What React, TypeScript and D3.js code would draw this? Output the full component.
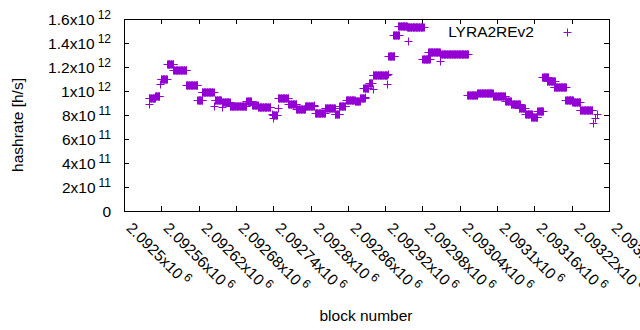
import React from "react";
import * as d3 from "d3";

// runs of consecutive blocks sharing one hashrate reading (value in units of 1e11 h/s)
const segStart = [
  2092540, 2092540, 2092550, 2092558, 2092559, 2092569, 2092579, 2092600, 2092618, 2092625,
  2092645, 2092646, 2092657, 2092658, 2092670, 2092697, 2092706, 2092715, 2092738, 2092740,
  2092739, 2092748, 2092748, 2092764, 2092777, 2092791, 2092806, 2092807, 2092823, 2092839,
  2092846, 2092857, 2092871, 2092879, 2092888, 2092885, 2092894, 2092900, 2092900, 2092924,
  2092923, 2092925, 2092933, 2092941, 2092957, 2092955, 2092980, 2092989, 2093008, 2093008,
  2093052, 2093068, 2093093, 2093113, 2093122, 2093135, 2093145, 2093154, 2093165, 2093173,
  2093180, 2093191, 2093210, 2093221, 2093233, 2093254, 2093257, 2093261,
];
const segEnd = [
  2092540, 2092550, 2092557, 2092558, 2092569, 2092579, 2092600, 2092618, 2092626, 2092644,
  2092645, 2092656, 2092657, 2092670, 2092697, 2092704, 2092715, 2092735, 2092738, 2092740,
  2092746, 2092748, 2092764, 2092777, 2092791, 2092806, 2092806, 2092823, 2092839, 2092846,
  2092856, 2092871, 2092879, 2092887, 2092888, 2092893, 2092899, 2092900, 2092923, 2092924,
  2092923, 2092935, 2092942, 2092955, 2092957, 2092982, 2092992, 2093008, 2093008, 2093053,
  2093068, 2093093, 2093113, 2093122, 2093137, 2093145, 2093156, 2093165, 2093174, 2093182,
  2093193, 2093211, 2093222, 2093233, 2093253, 2093254, 2093257, 2093261,
];
const segValue = [
  8.92, 9.42, 9.58, 10.58, 11.0, 12.25, 11.75, 10.5, 9.25, 9.92,
  8.75, 9.25, 8.67, 9.08, 8.75, 9.17, 8.83, 8.67, 8.08, 7.75,
  8.0, 8.58, 9.42, 8.92, 8.5, 8.75, 8.83, 8.17, 8.58, 8.08,
  8.75, 9.25, 9.17, 9.42, 9.5, 10.25, 10.67, 10.17, 11.33, 11.42,
  10.58, 12.92, 14.67, 15.42, 14.17, 15.33, 12.67, 13.25, 12.5, 13.08,
  9.67, 9.83, 9.58, 9.17, 8.92, 8.58, 8.08, 7.8, 8.33, 11.17,
  10.83, 10.33, 9.25, 9.08, 8.42, 7.33, 7.75, 8.08,
];

const xTicks = [
  2092500, 2092560, 2092620, 2092680, 2092740, 2092800, 2092860,
  2092920, 2092980, 2093040, 2093100, 2093160, 2093220, 2093280,
];
const xTickLabels = [
  "2.0925", "2.09256", "2.09262", "2.09268", "2.09274", "2.0928", "2.09286",
  "2.09292", "2.09298", "2.09304", "2.0931", "2.09316", "2.09322", "2.09328",
];
const yTicks = [0, 2e11, 4e11, 6e11, 8e11, 1e12, 1.2e12, 1.4e12, 1.6e12];
const yTickMantissa = ["0", "2x10", "4x10", "6x10", "8x10", "1x10", "1.2x10", "1.4x10", "1.6x10"];
const yTickExponent = ["", "11", "11", "11", "11", "12", "12", "12", "12"];

const seriesName = "LYRA2REv2";
const COLOR = "#9400d3";
const FONT = "'Liberation Sans', Arial, sans-serif";

const L = 124, R = 609, T = 19, B = 211;

export default function App() {
  const xs = d3.scaleLinear().domain([2092500, 2093280]).range([L, R]);
  const ys = d3.scaleLinear().domain([0, 1.6e12]).range([B, T]);

  const plus = (cx: number, cy: number) => {
    const x = Math.round(cx) + 0.5;
    const y = Math.round(cy) + 0.5;
    return `M${x - 4},${y}H${x + 4}M${x},${y - 4}V${y + 4}`;
  };

  let d = "";
  segStart.forEach((s, i) => {
    for (let b = s; b <= segEnd[i]; b++) {
      d += plus(xs(b), ys(segValue[i] * 1e11));
    }
  });

  const fs = 15.5;
  return (
    <svg width={640} height={330} style={{ position: "absolute", left: 0, top: 0, background: "#fff" }}
      fontFamily={FONT}>
      <rect x={0} y={0} width={640} height={330} fill="#fff" />
      {yTicks.map((t, i) => {
        const y = Math.round(ys(t)) + 0.5;
        return (
          <g key={"y" + i}>
            <path d={`M${L},${y}H${L + 5}M${R},${y}H${R - 5}`} stroke="#000" />
            <text x={111} y={y + 5.5} textAnchor="end" fontSize={fs} fill="#000">
              {yTickMantissa[i]}
              {yTickExponent[i] && (
                <tspan dx={3} dy={-6} fontSize={12}>{yTickExponent[i]}</tspan>
              )}
            </text>
          </g>
        );
      })}
      {xTicks.map((t, i) => {
        const x = Math.round(xs(t)) + 0.5;
        return (
          <g key={"x" + i}>
            <path d={`M${x},${B}V${B - 5}M${x},${T}V${T + 5}`} stroke="#000" />
            <text transform={`translate(${x + 1},229) rotate(45)`} fontSize={fs} fill="#000">
              {xTickLabels[i]}x10
              <tspan dx={3} dy={-6} fontSize={12}>6</tspan>
            </text>
          </g>
        );
      })}
      <rect x={L + 0.5} y={T + 0.5} width={R - L} height={B - T} fill="none" stroke="#000" />
      <path d={d} stroke={COLOR} strokeWidth={1} fill="none" />
      <text x={534} y={37} textAnchor="end" fontSize={fs} fill="#000">{seriesName}</text>
      <path d={plus(567, 32)} stroke={COLOR} fill="none" />
      <text x={366} y={321} textAnchor="middle" fontSize={fs} fill="#000">block number</text>
      <text transform="translate(23,125) rotate(-90)" textAnchor="middle" fontSize={fs} fill="#000">
        hashrate [h/s]
      </text>
    </svg>
  );
}
